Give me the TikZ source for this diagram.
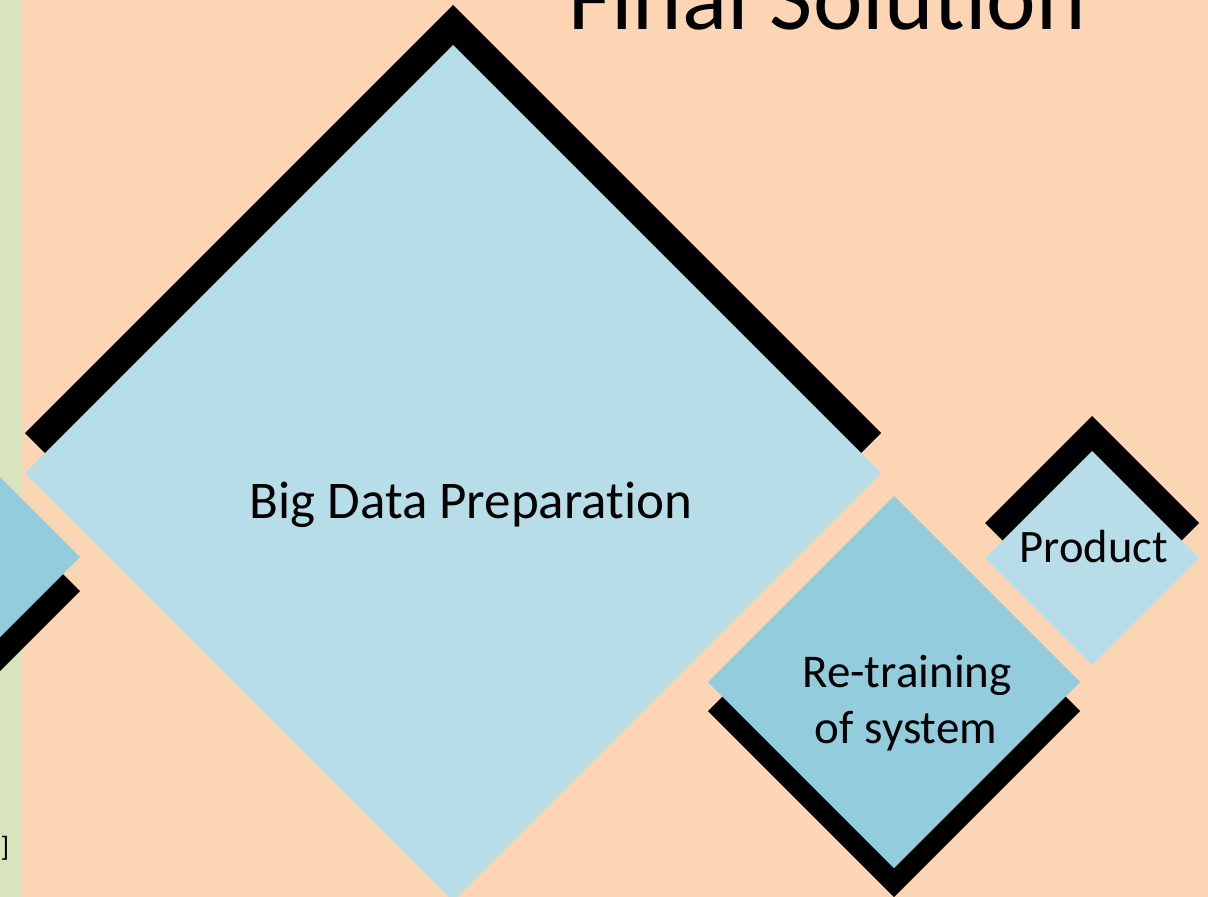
\documentclass[tikz,border=0pt]{standalone}
\usepackage{fontspec}
\setmainfont{Carlito}[Ligatures={NoCommon}]
\definecolor{peach}{HTML}{FCD5B5}
\definecolor{sidegreen}{HTML}{D7E4BD}
\definecolor{lightblue}{HTML}{B7DDE8}
\definecolor{aquablue}{HTML}{93CDDD}
\tikzset{
  shadowshape/.style={fill=black},
  lightshape/.style={fill=lightblue},
  aquashape/.style={fill=aquablue},
  label/.style={text=black, align=center, inner sep=0pt},
}
% diamond path: center x, center y, half diagonal
\newcommand{\dmd}[3]{(#1-#3,#2) -- (#1,#2-#3) -- (#1+#3,#2) -- (#1,#2+#3) -- cycle}
\begin{document}
\begin{tikzpicture}[x=1pt,y=-1pt]
\useasboundingbox (0,0) rectangle (1208,897);
\clip (0,0) rectangle (1208,897);
% backgrounds
\fill[peach] (0,0) rectangle (1208,897);
\fill[sidegreen] (0,0) rectangle (22,897);
% left partial diamond
\fill[shadowshape] \dmd{-106}{591}{186};
\fill[aquashape] \dmd{-106}{557}{186};
% big diamond
\fill[shadowshape] \dmd{453}{433}{428};
\fill[lightshape] \dmd{453}{473}{428};
% re-training diamond
\fill[shadowshape] \dmd{894}{711}{186};
\fill[aquashape] \dmd{894}{682}{186};
% product diamond
\fill[shadowshape] \dmd{1092}{523}{107};
\fill[lightshape] \dmd{1092}{558}{107};
% texts
\node[label, font=\fontsize{94}{113}\selectfont, anchor=base] (title) at (827,29) {Final Solution};
\node[label, font=\fontsize{53}{64}\selectfont, anchor=base] (bigdata) at (471,518) {Big Data Preparation};
\node[label, font=\fontsize{47}{56}\selectfont, anchor=base] (retrain1) at (907,687) {Re-training};
\node[label, font=\fontsize{47}{56}\selectfont, anchor=base] (retrain2) at (906,743) {of system};
\node[label, font=\fontsize{46.5}{55}\selectfont, anchor=base] (product) at (1094,562) {Product};
\node[label, font=\fontsize{28}{32}\selectfont] (bracket) at (5,848) {]};
\end{tikzpicture}
\end{document}
